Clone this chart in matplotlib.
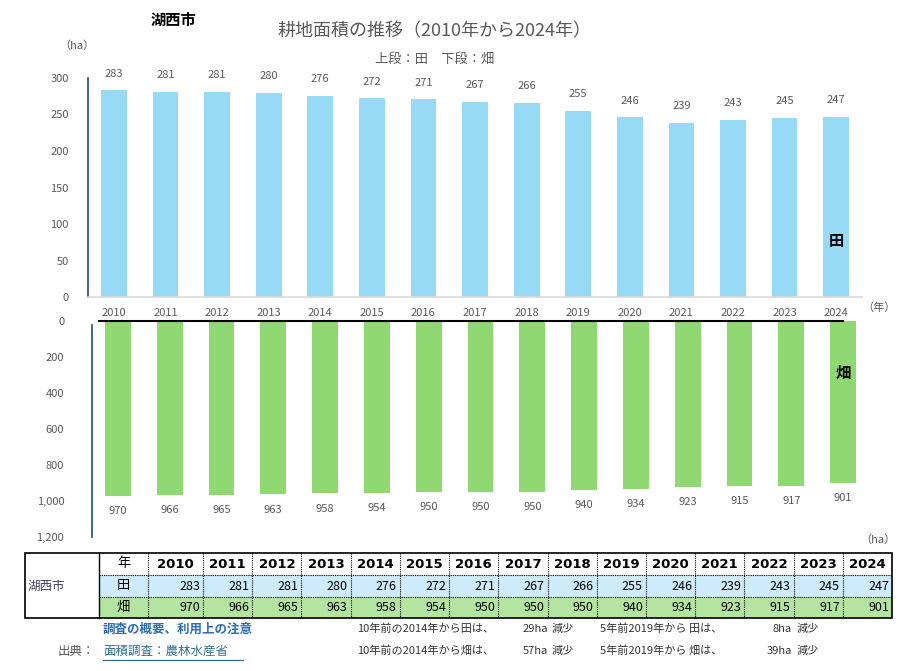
import matplotlib
matplotlib.use("Agg")
import matplotlib.pyplot as plt
from matplotlib.patches import Rectangle

plt.rcParams['font.family'] = ['Noto Sans CJK JP', 'DejaVu Sans']

# ----------------------------------------------------------------------
# data
# ----------------------------------------------------------------------
city = "湖西市"
years = [2010, 2011, 2012, 2013, 2014, 2015, 2016, 2017,
         2018, 2019, 2020, 2021, 2022, 2023, 2024]
paddy = [283, 281, 281, 280, 276, 272, 271, 267,
         266, 255, 246, 239, 243, 245, 247]
field = [970, 966, 965, 963, 958, 954, 950, 950,
         950, 940, 934, 923, 915, 917, 901]

top_ticks = [0, 50, 100, 150, 200, 250, 300]
bottom_ticks = [0, 200, 400, 600, 800, 1000, 1200]

BLUE = "#97DAF6"
GREEN = "#8FD872"
ROW_BLUE = "#CDEBFB"
ROW_GREEN = "#B4E5A0"
GRAY = "#595959"
TXT = "#333333"
AXIS = "#1F4E79"

W, H = 910, 671
fig = plt.figure(figsize=(W / 100, H / 100), dpi=100)


def frac(x0, y0, x1, y1):
    # pixel box -> figure fraction rect
    return [x0 / W, 1 - y1 / H, (x1 - x0) / W, (y1 - y0) / H]


x = list(range(len(years)))

# ----------------------------------------------------------------------
# upper chart : 田
# ----------------------------------------------------------------------
ax1 = fig.add_axes(frac(88, 78, 862, 297))
ax1.bar(x, paddy, width=0.5, color=BLUE)
ax1.set_xlim(-0.5, len(years) - 0.5)
ax1.set_ylim(0, 300)
ax1.set_yticks(top_ticks)
ax1.set_xticks(x)
ax1.set_xticklabels([str(y) for y in years])
ax1.tick_params(axis="both", length=0, labelsize=8, colors=GRAY, pad=8)
ax1.tick_params(axis="y", pad=14)
for s in ["top", "right"]:
    ax1.spines[s].set_visible(False)
ax1.spines["left"].set_color(AXIS)
ax1.spines["left"].set_linewidth(1.2)
ax1.spines["bottom"].set_color("#D9D9D9")
ax1.spines["bottom"].set_linewidth(1.2)
for xi, v in zip(x, paddy):
    ax1.annotate(str(v), (xi, v), xytext=(0, 12), textcoords="offset points",
                 ha="center", va="center", fontsize=8, color=GRAY)
ax1.text(len(years) - 0.5, -14, "（年）", transform=ax1.transData,
         fontsize=8, color=GRAY, ha="left", va="center", clip_on=False)
ax1.text(14.0, 77, "田", fontsize=11, fontweight="bold", ha="center",
         va="center")

# ----------------------------------------------------------------------
# lower chart : 畑
# ----------------------------------------------------------------------
ax2 = fig.add_axes(frac(92, 321, 869, 537))
ax2.bar(x, field, width=0.5, color=GREEN)
ax2.set_xlim(-0.5, len(years) - 0.5)
ax2.set_ylim(1200, 0)
ax2.set_yticks(bottom_ticks)
ax2.set_yticklabels([f"{t:,}" for t in bottom_ticks])
ax2.set_xticks([])
ax2.tick_params(axis="y", length=0, labelsize=8, colors=GRAY, pad=20)
for s in ["top", "right", "bottom"]:
    ax2.spines[s].set_visible(False)
ax2.spines["left"].set_color(AXIS)
ax2.spines["left"].set_linewidth(1.2)
ax2.spines["left"].set_bounds(20, 1200)
ax2.plot([-0.37, 14.0], [0, 0], color="black", lw=1.5, clip_on=False)
for xi, v in zip(x, field):
    ax2.annotate(str(v), (xi, v), xytext=(0, -11), textcoords="offset points",
                 ha="center", va="center", fontsize=8, color=GRAY)
ax2.text(14.0, 290, "畑", fontsize=11, fontweight="bold", ha="center",
         va="center")

# ----------------------------------------------------------------------
# titles and units (pixel overlay)
# ----------------------------------------------------------------------
ov = fig.add_axes([0, 0, 1, 1], zorder=-1)
ov.set_xlim(0, W)
ov.set_ylim(H, 0)
ov.axis("off")

ov.text(173, 20, city, fontsize=11, fontweight="bold", ha="center", va="center")
ov.text(435, 31, "耕地面積の推移（2010年から2024年）", fontsize=13,
        color=GRAY, ha="center", va="center")
ov.text(435, 59, "上段：田　下段：畑", fontsize=9.5, color=GRAY,
        ha="center", va="center")
ov.text(77, 46, "（ha）", fontsize=8, color=GRAY, ha="center", va="center")
ov.text(878, 540, "（ha）", fontsize=8, color=GRAY, ha="center", va="center")

# ----------------------------------------------------------------------
# table
# ----------------------------------------------------------------------
tab = fig.add_axes([0, 0, 1, 1])
tab.set_xlim(0, W)
tab.set_ylim(H, 0)
tab.axis("off")

t_left, t_right = 25, 892
c_name, c_year0, c_year1 = 99, 148, 203
cw = (t_right - c_year1) / (len(years) - 1)
edges = [c_year0] + [c_year1 + k * cw for k in range(len(years))]
rows = [553, 575, 597, 618]

tab.add_patch(Rectangle((c_name, rows[1]), t_right - c_name, rows[2] - rows[1],
                        facecolor=ROW_BLUE, edgecolor="none"))
tab.add_patch(Rectangle((c_name, rows[2]), t_right - c_name, rows[3] - rows[2],
                        facecolor=ROW_GREEN, edgecolor="none"))
# inner dotted grid
for ex in edges[:-1]:
    tab.plot([ex, ex], [rows[0], rows[3]], color="black", lw=0.8,
             linestyle=(0, (1, 1)))
for ry in rows[1:3]:
    tab.plot([c_name, t_right], [ry, ry], color="black", lw=0.8,
             linestyle=(0, (1, 1)))
tab.plot([c_name, c_name], [rows[0], rows[3]], color="black", lw=1.0)
tab.add_patch(Rectangle((t_left, rows[0]), t_right - t_left, rows[3] - rows[0],
                        facecolor="none", edgecolor="black", lw=1.2))

mid = [(rows[i] + rows[i + 1]) / 2 for i in range(3)]
tab.text(28, mid[1], city, fontsize=9, color="#404060", ha="left", va="center")
tab.text((c_name + c_year0) / 2, mid[0], "年", fontsize=9.5, ha="center", va="center")
tab.text((c_name + c_year0) / 2, mid[1], "田", fontsize=9.5, ha="center", va="center")
tab.text((c_name + c_year0) / 2, mid[2], "畑", fontsize=9.5, ha="center", va="center")
for i, (yr, p, f) in enumerate(zip(years, paddy, field)):
    cx = (edges[i] + edges[i + 1]) / 2
    tab.text(cx, mid[0], str(yr), fontsize=9.5, fontweight="bold",
             ha="center", va="center", family="DejaVu Sans")
    tab.text(edges[i + 1] - 3, mid[1], str(p), fontsize=9, ha="right", va="center")
    tab.text(edges[i + 1] - 3, mid[2], str(f), fontsize=9, ha="right", va="center")

# ----------------------------------------------------------------------
# notes
# ----------------------------------------------------------------------
i2014 = years.index(2014)
i2019 = years.index(2019)
tab.text(103, 629, "調査の概要、利用上の注意", fontsize=9, fontweight="bold",
         color="#2E6DB4", ha="left", va="center")
tab.text(58, 651, "出典：", fontsize=9, color=GRAY, ha="left", va="center")
tab.text(103, 651, "面積調査：農林水産省", fontsize=9, color="#31708F",
         ha="left", va="center")
tab.plot([103, 243], [660, 660], color="#31708F", lw=0.9)

notes = [
    (629, "田", paddy),
    (651, "畑", field),
]
for ny, name, vals in notes:
    d10 = vals[i2014] - vals[-1]
    d5 = vals[i2019] - vals[-1]
    tab.text(357, ny, f"10年前の2014年から{name}は、", fontsize=8,
             color=TXT, ha="left", va="center")
    tab.text(548, ny, f"{d10}ha", fontsize=8, color=TXT, ha="right", va="center")
    tab.text(552, ny, "減少", fontsize=8, color=TXT, ha="left", va="center")
    tab.text(600, ny, f"5年前2019年から {name}は、", fontsize=8,
             color=TXT, ha="left", va="center")
    tab.text(792, ny, f"{d5}ha", fontsize=8, color=TXT, ha="right", va="center")
    tab.text(797, ny, "減少", fontsize=8, color=TXT, ha="left", va="center")

fig.savefig("out.png", dpi=100)
